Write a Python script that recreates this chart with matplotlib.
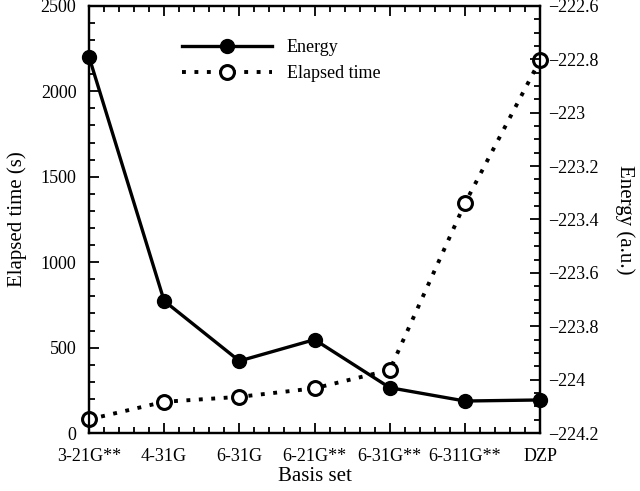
import numpy as np
import matplotlib
matplotlib.use('Agg')
import matplotlib.pyplot as plt
from matplotlib.ticker import MultipleLocator, FuncFormatter

# data
basis = ['3-21G**', '4-31G', '6-31G', '6-21G**', '6-31G**', '6-311G**', 'DZP']
elapsed = [80, 183, 212, 262, 369, 1345, 2184]
energy = [-222.79, -223.705, -223.93, -223.85, -224.03, -224.08, -224.076]

plt.rcParams['font.family'] = 'Liberation Serif'
plt.rcParams['font.size'] = 13

fig = plt.figure(figsize=(6.4, 4.91), dpi=100)
ax = fig.add_axes([0.139, 0.118, 0.705, 0.870])
ax2 = ax.twinx()

x = np.arange(len(basis))

# ----- Energy (right axis) -----
l1, = ax2.plot(x, energy, '-', color='black', lw=2.4, marker='o', ms=10,
               mfc='black', mec='black', label='Energy', clip_on=False, zorder=3)

# ----- Elapsed time (left axis) -----
l2, = ax.plot(x, elapsed, linestyle=(0, (1.0, 2.2)), color='black', lw=2.8,
              marker='o', ms=10, mfc='white', mec='black', mew=2.2,
              label='Elapsed time', clip_on=False, zorder=3)

ax.set_xlim(0, 6)
ax.set_ylim(0, 2500)
ax2.set_ylim(-224.2, -222.6)

ax.set_xticks(x)
ax.set_xticklabels(basis)
ax.xaxis.set_minor_locator(MultipleLocator(0.2))
ax.yaxis.set_major_locator(MultipleLocator(500))
ax.yaxis.set_minor_locator(MultipleLocator(100))
ax2.yaxis.set_major_locator(MultipleLocator(0.2))
ax2.yaxis.set_minor_locator(MultipleLocator(0.05))
ax2.yaxis.set_major_formatter(FuncFormatter(lambda v, p: ('%g' % round(v, 2)).replace('-', '\u2212')))

ax.tick_params(which='both', direction='in', top=True, right=False, width=1.3)
ax.tick_params(which='major', length=7)
ax.tick_params(which='minor', length=4)
ax.tick_params(axis='x', pad=11)
ax.tick_params(axis='y', pad=9)
ax2.tick_params(which='both', direction='in', width=1.3, pad=6)
ax2.tick_params(which='major', length=7)
ax2.tick_params(which='minor', length=4)

for a in (ax, ax2):
    for s in a.spines.values():
        s.set_linewidth(1.6)

ax.set_xlabel('Basis set', fontsize=15, labelpad=1)
ax.set_ylabel('Elapsed time (s)', fontsize=15, labelpad=10)
ax2.set_ylabel('Energy (a.u.)', fontsize=15, rotation=270, labelpad=26)

ax.legend([l1, l2], ['Energy', 'Elapsed time'], loc='upper left',
          bbox_to_anchor=(0.17, 0.96), frameon=False, handlelength=5, fontsize=13)

fig.savefig('out.png', dpi=100)
